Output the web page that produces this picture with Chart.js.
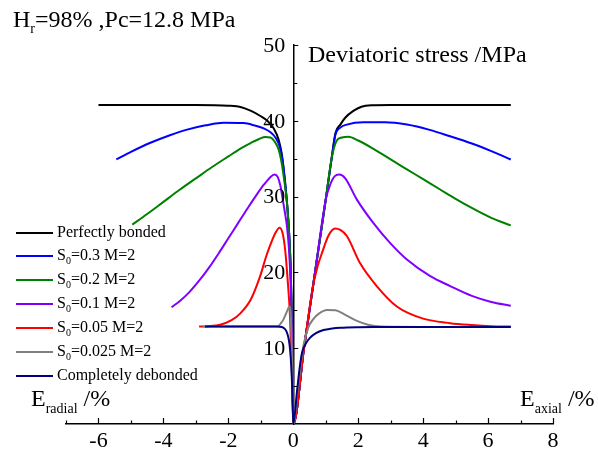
<!DOCTYPE html>
<html>
<head>
<meta charset="utf-8">
<script src="https://cdn.jsdelivr.net/npm/chart.js@4.4.1/dist/chart.umd.min.js"></script>
<style>
  body { margin: 0; background: #fff; }
  #wrap { position: relative; width: 598px; height: 458px; font-family: "Liberation Serif", "Times New Roman", serif; color: #000; }
  #chart { position: absolute; left: 0; top: 0; }
  .txt { position: absolute; white-space: nowrap; line-height: 1; }
  .txt sub { vertical-align: baseline; position: relative; }
  .legend-row { position: absolute; left: 16px; height: 0; }
  .legend-row .swatch { position: absolute; left: 0; top: -1px; width: 37px; height: 2px; }
  .legend-row .name { position: absolute; left: 41px; top: -9.4px; font-size: 16px; line-height: 16px; white-space: nowrap; }
  .legend-row .name sub { font-size: 10px; vertical-align: baseline; position: relative; top: 4px; }
</style>
</head>
<body>
<div id="wrap">
  <canvas id="chart" width="598" height="458"></canvas>
  <div class="txt" style="left:13px; top:6.6px; font-size:24px;">H<sub style="font-size:14px; top:6px;">r</sub>=98% ,Pc=12.8 MPa</div>
  <div class="txt" style="left:308px; top:41.6px; font-size:24px;">Deviatoric stress /MPa</div>
  <div class="txt" style="left:31px; top:385.9px; font-size:24px;">E<sub style="font-size:14px; top:7px;">radial</sub> /%</div>
  <div class="txt" style="left:520px; top:385.9px; font-size:24px;">E<sub style="font-size:14px; top:7px;">axial</sub> /%</div>
  <div id="legend"></div>
</div>
<script>
// ----- Data -----
const X_TICKS = [-6, -4, -2, 0, 2, 4, 6, 8];
const Y_TICKS = [10, 20, 30, 40, 50];

const SERIES_NAMES = [
  "Perfectly bonded",
  "S<sub>0</sub>=0.3 M=2",
  "S<sub>0</sub>=0.2 M=2",
  "S<sub>0</sub>=0.1 M=2",
  "S<sub>0</sub>=0.05 M=2",
  "S<sub>0</sub>=0.025 M=2",
  "Completely debonded"
];
const SERIES_COLORS = ["#000000", "#0000FF", "#008000", "#8000FF", "#FF0000", "#808080", "#000080"];
const LEGEND_Y = [233, 256, 280, 304, 328, 352, 376];

const bondedX = [-6.0, -5, -4, -3, -2, -1.6, -1.3, -1.0, -0.8, -0.6, -0.45, -0.35, -0.27, -0.2, -0.14, -0.08, -0.04, 0,
  0.33, 0.67, 1.0, 1.18, 1.3, 1.45, 1.6, 1.85, 2.1, 2.4, 3, 4, 5, 6, 6.7];
const bondedY = [42.1, 42.1, 42.1, 42.1, 42.0, 41.8, 41.3, 40.6, 40.0, 39.0, 37.5, 35.5, 32.5, 29.5, 26, 20.5, 13, 0,
  10, 20, 29.6, 35.0, 38.4, 39.5, 40.4, 41.3, 41.85, 42.05, 42.1, 42.1, 42.1, 42.1, 42.1];

const s03X = [-5.45, -5.0, -4.4, -3.8, -3.3, -2.7, -2.14, -1.53, -1.2, -0.91, -0.7, -0.55, -0.42, -0.33, -0.26, -0.2, -0.14, -0.08, -0.04, 0,
  0.33, 0.67, 1.0, 1.18, 1.3, 1.45, 1.65, 2.16, 2.83, 3.5, 4.2, 4.8, 5.5, 6.1, 6.7];
const s03Y = [34.9, 35.9, 37.1, 38.1, 38.8, 39.4, 39.75, 39.7, 39.4, 39.0, 38.5, 37.8, 36.6, 34.8, 32.3, 29.5, 26, 20.5, 13, 0,
  10, 20, 29.6, 35, 38.2, 39.1, 39.5, 39.8, 39.8, 39.5, 38.8, 38.0, 37.0, 36.0, 34.9];

const s02X = [-4.96, -4.5, -4.0, -3.5, -3.0, -2.5, -2.0, -1.6, -1.3, -1.05, -0.86, -0.7, -0.58, -0.45, -0.36, -0.28, -0.2, -0.14, -0.08, -0.04, 0,
  0.33, 0.67, 1.0, 1.18, 1.34, 1.5, 1.7, 2.0, 2.47, 3.0, 3.5, 4.0, 4.5, 5.0, 5.5, 6.1, 6.7];
const s02Y = [26.3, 27.7, 29.3, 30.9, 32.4, 33.9, 35.3, 36.4, 37.1, 37.6, 37.85, 37.8, 37.3, 36.2, 34.5, 32.2, 29.5, 26, 20.5, 13, 0,
  10, 20, 29.6, 35, 37.4, 37.8, 37.9, 37.4, 36.3, 34.9, 33.6, 32.3, 31.0, 29.7, 28.5, 27.2, 26.2];

const s01X = [-3.75, -3.5, -3.2, -2.9, -2.6, -2.3, -2.0, -1.7, -1.4, -1.12, -0.9, -0.72, -0.58, -0.48, -0.4, -0.33, -0.27, -0.2, -0.14, -0.08, -0.04, 0,
  0.33, 0.67, 1.0, 1.14, 1.28, 1.42, 1.6, 1.96, 2.47, 2.98, 3.5, 4.22, 4.83, 5.5, 6.1, 6.7];
const s01Y = [15.4, 16.2, 17.4, 18.9, 20.6, 22.5, 24.5, 26.5, 28.5, 30.3, 31.6, 32.5, 32.9, 32.6, 31.5, 29.8, 28.2, 26.3, 23.5, 18.5, 12, 0,
  10, 20, 29.6, 31.6, 32.7, 32.9, 32.4, 29.6, 26.5, 23.9, 21.7, 19.5, 18.2, 16.9, 16.1, 15.6];

const s005X = [-2.9, -2.6, -2.25, -1.9, -1.63, -1.3, -1.02, -0.85, -0.71, -0.55, -0.42, -0.33, -0.25, -0.18, -0.1, -0.05, 0,
  0.33, 0.6, 0.75, 0.88, 1.09, 1.29, 1.45, 1.65, 2.06, 2.57, 3.19, 4.0, 4.83, 5.5, 6.1, 6.7];
const s005Y = [12.85, 12.9, 13.1, 13.7, 14.6, 16.5, 19.5, 21.9, 23.6, 25.2, 25.9, 25.2, 23.0, 19.4, 14.2, 8, 0,
  10, 18, 20.8, 22.5, 24.9, 25.8, 25.6, 24.8, 21.2, 18.2, 15.5, 13.9, 13.3, 13.05, 12.9, 12.85];

const s0025X = [-2.8, -1.5, -0.55, -0.45, -0.38, -0.3, -0.24, -0.18, -0.12, -0.08, -0.04, 0,
  0.15, 0.32, 0.47, 0.63, 0.8, 1.04, 1.3, 1.6, 1.96, 2.3, 2.7, 4.0, 6.7];
const s0025Y = [12.85, 12.85, 12.85, 12.95, 13.3, 13.8, 14.4, 15.0, 15.5, 14.5, 9, 0,
  5, 10.5, 12.8, 13.9, 14.6, 15.05, 15.0, 14.4, 13.6, 13.1, 12.85, 12.8, 12.8];

const debondedX = [-2.72, -1.5, -0.5, -0.35, -0.25, -0.19, -0.14, -0.1, -0.06, -0.03, 0,
  0.12, 0.2, 0.27, 0.4, 0.52, 0.7, 0.93, 1.2, 1.45, 2.0, 2.47, 4.0, 6.7];
const debondedY = [12.85, 12.85, 12.85, 12.8, 12.5, 12.0, 11.2, 9.9, 7.5, 4.5, 0,
  4.5, 7.5, 9.4, 10.7, 11.4, 12.0, 12.4, 12.6, 12.7, 12.78, 12.8, 12.8, 12.8];

const SERIES_X = [bondedX, s03X, s02X, s01X, s005X, s0025X, debondedX];
const SERIES_Y = [bondedY, s03Y, s02Y, s01Y, s005Y, s0025Y, debondedY];

// ----- Helpers -----
const zip = (xs, ys) => xs.map((x, i) => ({ x, y: ys[i] }));
const plain = (html) => html.replace(/<[^>]+>/g, "");
const FONT = "Liberation Serif";

// ----- Legend (html so the subscripts stay real text) -----
const legend = document.getElementById("legend");
SERIES_NAMES.forEach((name, i) => {
  const row = document.createElement("div");
  row.className = "legend-row";
  row.style.top = LEGEND_Y[i] + "px";
  row.innerHTML = `<div class="swatch" style="background:${SERIES_COLORS[i]}"></div><span class="name">${name}</span>`;
  legend.appendChild(row);
});

// ----- Tick marks + y labels: x ticks point up, y ticks point right, labels left of the y axis -----
const axisTicks = {
  id: "axisTicks",
  afterDraw(chart) {
    const { ctx, scales: { x, y } } = chart;
    const x0 = x.getPixelForValue(0);
    const yb = y.getPixelForValue(0);
    ctx.save();
    ctx.strokeStyle = "#000";
    ctx.lineWidth = 1.2;
    ctx.beginPath();
    for (let v = -7; v <= 8; v++) {
      const px = Math.round(x.getPixelForValue(v)) + 0.5;
      ctx.moveTo(px, yb);
      ctx.lineTo(px, yb - (v % 2 === 0 ? 6 : 3.5));
    }
    for (let v = 5; v <= 50; v += 5) {
      const py = Math.round(y.getPixelForValue(v)) + 0.5;
      ctx.moveTo(x0, py);
      ctx.lineTo(x0 + (v % 10 === 0 ? 5 : 4), py);
    }
    ctx.stroke();

    ctx.fillStyle = "#000";
    ctx.font = `22px "${FONT}"`;
    ctx.textAlign = "right";
    ctx.textBaseline = "middle";
    Y_TICKS.forEach((v) => ctx.fillText(String(v), x0 - 8, y.getPixelForValue(v) + 1));
    ctx.restore();
  }
};

// ----- Chart -----
const chart = new Chart(document.getElementById("chart"), {
  type: "line",
  data: {
    datasets: SERIES_NAMES.map((name, i) => ({
      label: plain(name),
      data: zip(SERIES_X[i], SERIES_Y[i]),
      borderColor: SERIES_COLORS[i],
      borderWidth: 2,
      pointRadius: 0,
      fill: false,
      cubicInterpolationMode: "monotone",
      order: SERIES_NAMES.length - i
    }))
  },
  options: {
    responsive: false,
    animation: false,
    layout: { padding: { left: 66, right: 45, top: 45, bottom: 0 } },
    plugins: { legend: { display: false }, tooltip: { enabled: false } },
    scales: {
      x: {
        type: "linear",
        min: -7,
        max: 8,
        position: "bottom",
        grid: { display: false, drawTicks: false },
        border: { display: true, color: "#000", width: 1.5 },
        ticks: { color: "#000", font: { family: FONT, size: 22 }, padding: 4, maxRotation: 0 },
        afterBuildTicks: (s) => { s.ticks = X_TICKS.map((v) => ({ value: v })); },
        afterFit: (s) => { s.height = 34; }
      },
      y: {
        type: "linear",
        min: 0,
        max: 50,
        position: { x: 0 },
        grid: { display: false, drawTicks: false },
        border: { display: true, color: "#000", width: 1.5 },
        ticks: { display: false },
        afterBuildTicks: (s) => { s.ticks = Y_TICKS.map((v) => ({ value: v })); }
      }
    }
  },
  plugins: [axisTicks]
});
</script>
</body>
</html>
